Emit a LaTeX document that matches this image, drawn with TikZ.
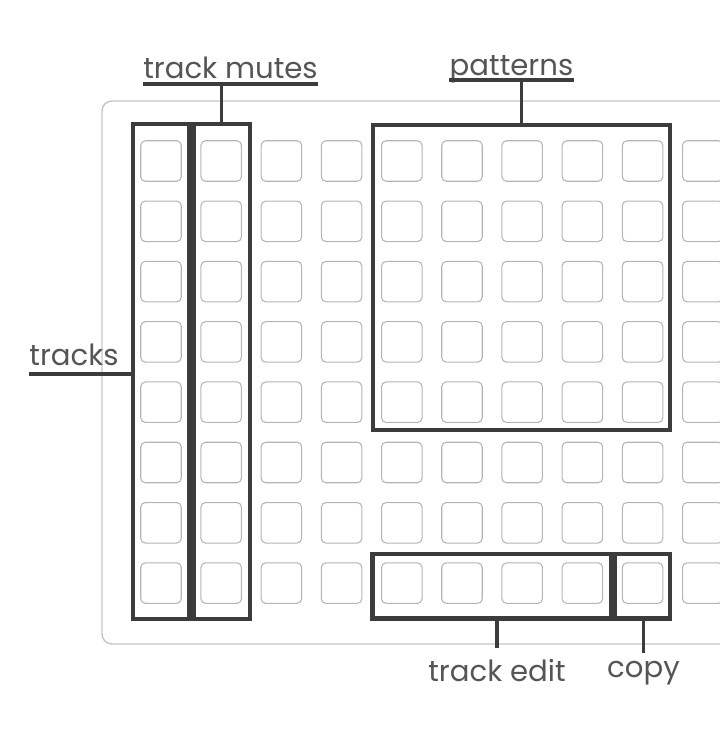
\documentclass[tikz,border=0pt]{standalone}
\usepackage{fontspec}
\setmainfont{Poppins}
\usetikzlibrary{fit}
\definecolor{ink}{HTML}{3C3C3C}
\definecolor{txtgray}{HTML}{555555}
\definecolor{padgray}{HTML}{B4B4B4}
\definecolor{panelgray}{HTML}{C4C4C4}
\begin{document}
\begin{tikzpicture}[x=0.02cm, y=-0.02cm, font=\fontsize{16.6}{19}\selectfont,
	pad/.style={draw=padgray, line width=0.6pt, rounded corners=2.6pt, minimum size=0.81cm, inner sep=0pt, outer sep=0pt},
	grp/.style={draw=ink, line width=2.3pt, inner sep=0pt, outer sep=0pt},
	lead/.style={draw=ink, line width=1.8pt},
	lbl/.style={text=txtgray, inner sep=0pt, anchor=base}]
		\useasboundingbox (0,0) rectangle (720,745);
		\clip (0,0) rectangle (720,745);
		\draw[panelgray, line width=0.8pt, rounded corners=0.2cm] (102,101) rectangle (780,644);
		\foreach \c in {0,...,9}
			\foreach \r in {0,...,7}
				\node[pad] (p\c\r) at ({161+60.2*\c},{161+60.3*\r}) {};
		\node[grp, fit={(133,124) (189.5,619)}] (trackbox) {};
		\node[grp, fit={(193.5,124) (250,619)}] (mutebox) {};
		\node[grp, fit={(373,125) (670,430)}] (patbox) {};
		\node[grp, fit={(372.5,554) (611.5,618.5)}] (editbox) {};
		\node[grp, fit={(615,554) (670,618.5)}] (copybox) {};
		\node[lbl] (mutes) at (230.5,78) {track mutes};
		\node[lbl] (patterns) at (511.5,75) {patterns};
		\node[lbl] (tracks) at (74,365) {tracks};
		\node[lbl] (edit) at (497,681) {track edit};
		\node[lbl] (copy) at (643.5,677) {copy};
		\coordinate (mutesline) at (0,84);
		\coordinate (patline) at (0,80);
		\coordinate (trkline) at (0,374);
		\draw[lead] (mutes.west |- mutesline) -- (mutes.east |- mutesline);
		\draw[lead] (mutebox.north) -- (mutebox.north |- mutesline);
		\draw[lead] (patterns.west |- patline) -- (patterns.east |- patline);
		\draw[lead] (patbox.north) -- (patbox.north |- patline);
		\draw[lead] (tracks.west |- trkline) -- (trackbox.west |- trkline);
		\draw[lead] (edit.north |- editbox.south) -- ([yshift=0.2cm]edit.north);
		\draw[lead] (copy.north |- copybox.south) -- ([yshift=0.15cm]copy.north);
	\end{tikzpicture}
\end{document}
